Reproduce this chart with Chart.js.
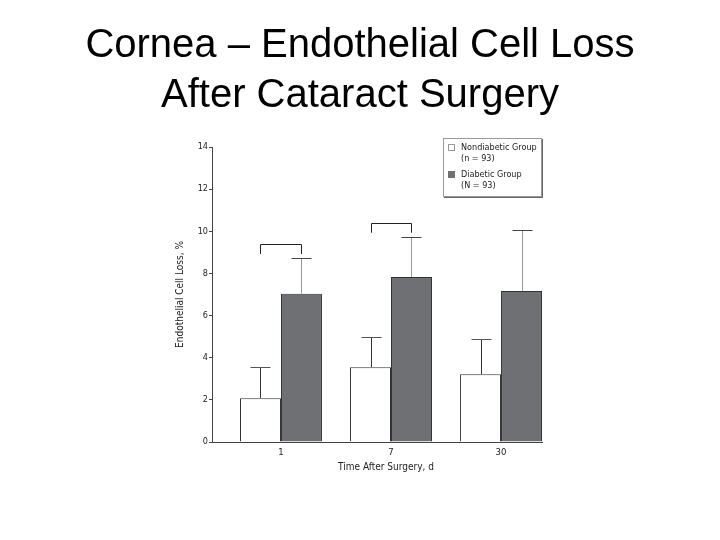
<!DOCTYPE html>
<html>
<head>
<meta charset="utf-8">
<script src="https://cdn.jsdelivr.net/npm/chart.js@4/dist/chart.umd.min.js"></script>
<style>
  body { margin: 0; background: #fff; }
  #wrap { position: relative; width: 720px; height: 540px; }
  #clip { position: absolute; left: 0; top: 0; width: 543px; height: 540px; overflow: hidden; }
  #title {
    position: absolute; left: 0; top: 18px; width: 720px;
    text-align: center; font-family: "Liberation Sans", Arial, sans-serif;
    font-size: 40px; line-height: 50px; color: #000;
  }
  #legend {
    position: absolute; left: 443px; top: 138px; width: 97px; height: 57px;
    border: 1px solid #999; box-shadow: 1px 1px 0 #666; background: #fff;
    font-family: "Liberation Sans Narrow", "DejaVu Sans Condensed", sans-serif;
    font-size: 9px; line-height: 11px; color: #222;
  }
  .item { position: absolute; left: 4px; }
  .box { position: absolute; left: 0; top: 2px; width: 7px; height: 7px; box-sizing: border-box; }
  .txt { position: absolute; left: 13px; top: 0; white-space: nowrap; }
</style>
</head>
<body>
<div id="wrap">
  <div id="clip"><canvas id="chart" width="720" height="540"></canvas></div>
  <div id="title">Cornea – Endothelial Cell Loss<br>After Cataract Surgery</div>
  <div id="legend">
    <div class="item" style="top:3px"><div class="box" style="border:1px solid #999;background:#fff"></div><div class="txt">Nondiabetic Group<br>(n = 93)</div></div>
    <div class="item" style="top:30px"><div class="box" style="background:#6e7074"></div><div class="txt">Diabetic Group<br>(N = 93)</div></div>
  </div>
</div>
<script>
const days = ["1", "7", "30"];
const nondiabetic = [2.08, 3.55, 3.22];
const nondiabeticErrTop = [3.58, 5.0, 4.88];
const diabetic = [7.04, 7.83, 7.17];
const diabeticErrTop = [8.71, 9.74, 10.05];
const bracketIndex = [0, 1];
const bracketTop = [9.38, 10.37];
const bracketFoot = [8.92, 9.93];

const smallFont = { family: '"Liberation Sans Narrow", "DejaVu Sans Condensed", sans-serif', size: 9 };

const errorBars = {
  id: "errorBars",
  afterDatasetsDraw(chart) {
    const ctx = chart.ctx;
    const y = chart.scales.y;
    const tops = [nondiabeticErrTop, diabeticErrTop];
    const colors = [["#333", "#555"], ["#999", "#444"]];
    ctx.save();
    ctx.lineWidth = 1;
    tops.forEach((arr, d) => {
      chart.getDatasetMeta(d).data.forEach((bar, i) => {
        const x = Math.round(bar.x) + 0.5;
        const yTop = Math.round(y.getPixelForValue(arr[i])) + 0.5;
        ctx.strokeStyle = colors[d][0];
        ctx.beginPath();
        ctx.moveTo(x, bar.y);
        ctx.lineTo(x, yTop);
        ctx.stroke();
        ctx.strokeStyle = colors[d][1];
        ctx.beginPath();
        ctx.moveTo(x - 10, yTop);
        ctx.lineTo(x + 10, yTop);
        ctx.stroke();
      });
    });

    // significance brackets
    ctx.strokeStyle = "#222";
    bracketIndex.forEach((idx, k) => {
      const a = chart.getDatasetMeta(0).data[idx];
      const b = chart.getDatasetMeta(1).data[idx];
      const x1 = Math.round(a.x) + 0.5;
      const x2 = Math.round(b.x) + 0.5;
      const yt = Math.round(y.getPixelForValue(bracketTop[k])) + 0.5;
      const yf = y.getPixelForValue(bracketFoot[k]);
      ctx.beginPath();
      ctx.moveTo(x1, yf);
      ctx.lineTo(x1, yt);
      ctx.lineTo(x2, yt);
      ctx.lineTo(x2, yf);
      ctx.stroke();
    });
    ctx.restore();
  },
};

new Chart(document.getElementById("chart"), {
  type: "bar",
  data: {
    datasets: [
      {
        label: "Nondiabetic Group (n = 93)",
        data: nondiabetic.map((v, i) => ({ x: i, y: v })),
        backgroundColor: "#ffffff",
        borderColor: "#333",
        borderWidth: 1,
        borderSkipped: "bottom",
      },
      {
        label: "Diabetic Group (N = 93)",
        data: diabetic.map((v, i) => ({ x: i, y: v })),
        backgroundColor: "#6e7074",
        borderColor: "#333",
        borderWidth: 1,
        borderSkipped: "bottom",
      },
    ],
  },
  options: {
    responsive: false,
    animation: false,
    events: [],
    layout: { padding: { left: 170, right: 160, top: 147, bottom: 67 } },
    datasets: { bar: { categoryPercentage: 0.745, barPercentage: 1 } },
    plugins: { legend: { display: false }, title: { display: false }, tooltip: { enabled: false } },
    scales: {
      x: {
        type: "linear",
        offset: false,
        bounds: "data",
        grace: 0,
        min: -0.627,
        max: 2.536,
        afterFit(scale) { scale.height = 31; },
        afterBuildTicks(scale) { scale.ticks = days.map((d, i) => ({ value: i })); },
        grid: { display: false, drawTicks: false },
        border: { display: true, color: "#444" },
        ticks: { color: "#222", font: { ...smallFont, size: 9.5 }, padding: 5, callback: (v) => days[v] },
        title: { display: true, text: "Time After Surgery, d", color: "#222", font: { ...smallFont, size: 10 }, padding: 0 },
      },
      y: {
        min: 0,
        max: 14,
        afterFit(scale) { scale.width = 42; },
        grid: { drawOnChartArea: false, drawTicks: true, tickLength: 3, color: "#444" },
        border: { display: true, color: "#444" },
        ticks: { stepSize: 2, color: "#222", font: smallFont, padding: 1 },
        title: { display: true, text: "Endothelial Cell Loss, %", color: "#222", font: { ...smallFont, size: 10 }, padding: { bottom: 4 } },
      },
    },
  },
  plugins: [errorBars],
});
</script>
</body>
</html>
